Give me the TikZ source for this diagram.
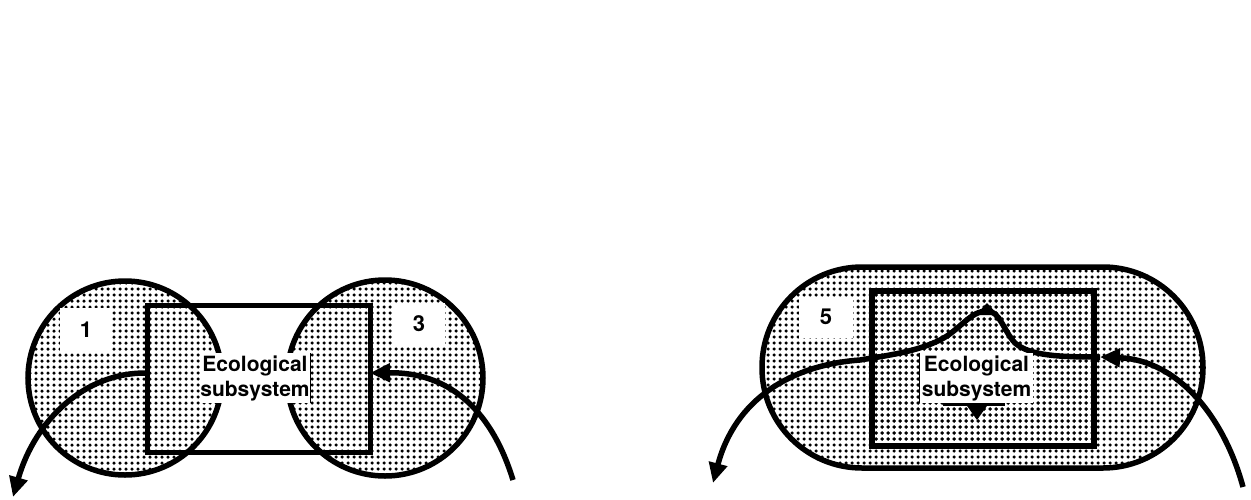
\documentclass[tikz,border=0pt]{standalone}
\usepackage{fontspec}
\setmainfont{TeX Gyre Heros}
\usetikzlibrary{arrows.meta,patterns.meta}
\tikzdeclarepattern{
  name=halftone,
  type=uncolored,
  bottom left={(-3pt,-3pt)},
  top right={(3pt,3pt)},
  tile size={(6pt,6pt)},
  code={\fill (0pt,0pt) circle (1.75pt);}
}
\tikzset{
  dotted region/.style={draw, line width=5.5pt, pattern=halftone},
  sysbox/.style={draw, line width=5pt, inner sep=0pt},
  numbox/.style={fill=white, inner sep=0pt, font=\bfseries\fontsize{22}{24}\selectfont},
  labelbox/.style={fill=white, inner sep=0pt, align=center, font=\bfseries\fontsize{21}{25}\selectfont},
  flow/.style={line width=5.5pt, -{Triangle[length=20pt,width=18pt]}},
  thinedge/.style={line width=1.2pt},
}
\begin{document}
\begin{tikzpicture}[x=1pt,y=-1pt]
\useasboundingbox (0,0) rectangle (1251,499);

% ---------- left diagram ----------
\node[dotted region, circle, minimum size=194pt] (c1) at (125,378) {};
\node[dotted region, circle, minimum size=196pt] (c3) at (385,378) {};
\node[sysbox, minimum width=223pt, minimum height=147pt] (r1) at (258.5,379) {};
\node[numbox, minimum width=52pt, minimum height=44pt] (n1) at (86,330) {1};
\node[numbox, minimum width=52pt, minimum height=42pt] (n3) at (419,324) {3};
\node[labelbox, minimum width=110pt, minimum height=50pt] (l1) at (255,378) {Ecological\\subsystem};
\draw[thinedge] (l1.north east) -- (l1.south east);

\coordinate (a1s) at (147,373);
\coordinate (a1e) at (13,497);
\draw[flow] (a1s) .. controls (85,372) and (35,420) .. (a1e);
\coordinate (a3s) at (513,480);
\coordinate (a3e) at (370,373);
\draw[flow] (a3s) .. controls (490,405) and (445,372) .. (a3e);

% ---------- right diagram ----------
\node[dotted region, rounded corners=100pt, minimum width=441pt, minimum height=201pt] (st) at (982.5,367.5) {};
\node[draw, line width=6pt, pattern=halftone, minimum width=222pt, minimum height=155pt] (r5) at (983,368) {};
\node[numbox, minimum width=54pt, minimum height=41pt] (n5) at (826,317) {5};

\coordinate (b0) at (1243,487);
\coordinate (b1) at (1100,357);
\coordinate (b2) at (713,483);
\draw[flow] (b0) .. controls (1225,420) and (1180,360) .. (b1);
\draw[flow] (b1) .. controls (1060,357) and (1030,356) .. (1015,343)
  .. controls (1003,330) and (1000,311) .. (987,311)
  .. controls (970,311) and (960,330) .. (940,340)
  .. controls (915,352) and (890,355) .. (860,360)
  .. controls (790,365) and (735,400) .. (b2);
\coordinate (sp) at (987,303);
\fill (sp) -- ++(-11,12) -- ++(22,0) -- cycle;

\node[labelbox, minimum width=113pt, minimum height=50pt] (l5) at (976.5,378) {Ecological\\subsystem};
\draw[thinedge] (l5.north west) -- (l5.south west);
\coordinate (dl) at (943,404);
\coordinate (dr) at (1005,404);
\draw[line width=3pt] (dl) -- (dr);
\coordinate (dt) at (977,420);
\fill (dt) -- ++(-12,-17) -- ++(24,0) -- cycle;
\end{tikzpicture}
\end{document}
